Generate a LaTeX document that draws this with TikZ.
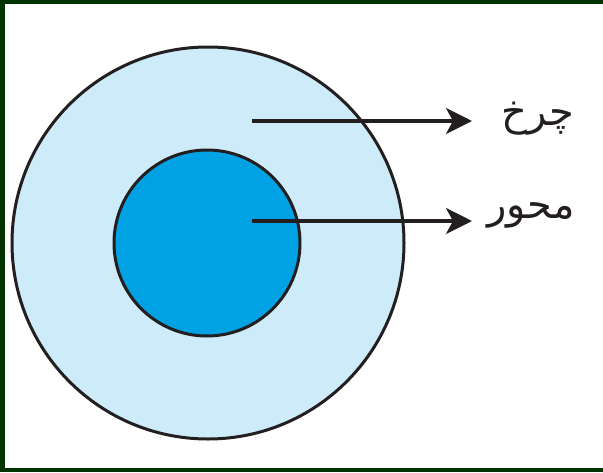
\documentclass[tikz,border=0pt]{standalone}
\usepackage{fontspec}
\newfontfamily\arabicfont[Script=Arabic]{DejaVu Sans}
\TeXXeTstate=1
\usetikzlibrary{arrows.meta}
\definecolor{frame}{RGB}{0,51,0}
\definecolor{wheelblue}{RGB}{205,235,248}
\definecolor{axleblue}{RGB}{0,162,227}
\definecolor{ink}{RGB}{35,31,32}
\begin{document}
\begin{tikzpicture}[x=1pt,y=-1pt,
  disc/.style={draw=ink,line width=3pt},
  pointer/.style={draw=ink,line width=3.4pt,-{Stealth[length=26pt,width=26pt,inset=7pt]}},
  lbl/.style={font=\arabicfont\fontsize{40}{46}\selectfont,text=ink,inner sep=0pt}]
\useasboundingbox (0,0) rectangle (603,472);
\fill[frame] (0,0) rectangle (603,472);
\fill[white] (5,4) rectangle (603,468);
\node[disc,circle,fill=wheelblue,minimum size=392pt,inner sep=0pt] (wheel) at (208,243) {};
\node[disc,circle,fill=axleblue,minimum size=186pt,inner sep=0pt] (axle) at (207,243) {};
\coordinate (s1) at (252,121);
\coordinate (s2) at (252,221);
\node[lbl] (charkh) at (538,119) {\beginR چرخ\endR};
\node[lbl] (mehvar) at (531,215) {\beginR محور\endR};
\draw[pointer] (s1) -- (472,121) coordinate (e1);
\draw[pointer] (s2) -- (472,221) coordinate (e2);
\end{tikzpicture}
\end{document}
